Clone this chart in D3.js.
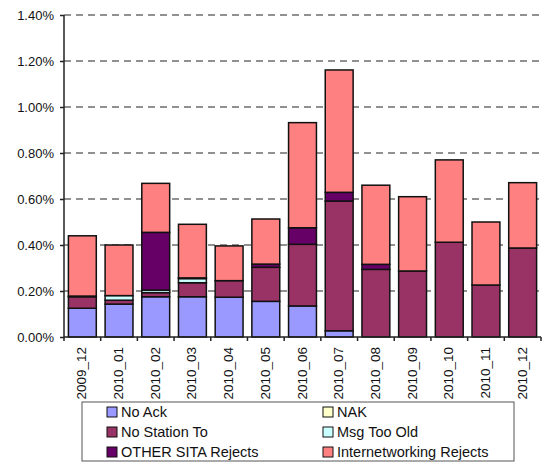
<!DOCTYPE html>
<html lang="en">
<head>
<meta charset="UTF-8">
<title>Rejects by month</title>
<script src="https://d3js.org/d3.v7.min.js"></script>
<style>
  body { margin: 0; background: #fff; }
  text { font-family: "Liberation Sans", Arial, sans-serif; fill: #111; }
</style>
</head>
<body>
<script>
// months on the x axis
var months = ["2009_12", "2010_01", "2010_02", "2010_03", "2010_04", "2010_05", "2010_06",
              "2010_07", "2010_08", "2010_09", "2010_10", "2010_11", "2010_12"];

// series names, in stack order (bottom first)
var seriesNames = ["No Ack", "NAK", "No Station To", "Msg Too Old", "OTHER SITA Rejects", "Internetworking Rejects"];
var seriesColors = ["#9999ff", "#ffffcc", "#993366", "#ccffff", "#660066", "#ff8080"];

// values in percent
var noAck          = [0.125, 0.143, 0.175, 0.175, 0.173, 0.155, 0.135, 0.027, 0, 0, 0, 0, 0];
var nak            = [0, 0, 0, 0, 0, 0, 0, 0, 0, 0, 0, 0, 0];
var noStationTo    = [0.050, 0.017, 0.018, 0.061, 0.072, 0.148, 0.268, 0.564, 0.294, 0.287, 0.412, 0.226, 0.387];
var msgTooOld      = [0, 0.020, 0.011, 0.018, 0, 0, 0, 0, 0, 0, 0, 0, 0];
var otherSita      = [0.003, 0, 0.251, 0.003, 0, 0.014, 0.072, 0.038, 0.022, 0, 0, 0, 0];
var internetworking = [0.262, 0.220, 0.213, 0.233, 0.151, 0.196, 0.457, 0.532, 0.344, 0.323, 0.358, 0.274, 0.284];

var yTicks = [0, 0.2, 0.4, 0.6, 0.8, 1.0, 1.2, 1.4];

var allSeries = [noAck, nak, noStationTo, msgTooOld, otherSita, internetworking];
var table = months.map(function(m, i) {
  var row = { month: m };
  seriesNames.forEach(function(s, j) { row[s] = allSeries[j][i]; });
  return row;
});

var W = 544, H = 462;
var pLeft = 64, pRight = 541, pTop = 15, pBottom = 337;

var svg = d3.select("body").append("svg")
    .attr("width", W)
    .attr("height", H);

var x = d3.scaleBand().domain(months).range([pLeft, pRight]).paddingInner(0.24).paddingOuter(0.12);
var y = d3.scaleLinear().domain([0, 1.4]).range([pBottom, pTop]);

// dashed gridlines
svg.append("g").selectAll("line")
  .data(yTicks.filter(function(d) { return d > 0; }))
  .enter().append("line")
    .attr("x1", pLeft).attr("x2", pRight)
    .attr("y1", function(d) { return y(d); })
    .attr("y2", function(d) { return y(d); })
    .attr("stroke", "#6e6e6e")
    .attr("stroke-width", 1.5)
    .attr("stroke-dasharray", "7,5");

// stacked bars
var stack = d3.stack().keys(seriesNames);
var layers = stack(table);

svg.append("g").selectAll("g")
  .data(layers)
  .enter().append("g")
    .attr("fill", function(d, i) { return seriesColors[i]; })
  .selectAll("rect")
  .data(function(d) { return d.filter(function(p) { return p[1] - p[0] > 0; }); })
  .enter().append("rect")
    .attr("x", function(d) { return x(d.data.month); })
    .attr("width", x.bandwidth())
    .attr("y", function(d) { return y(d[1]); })
    .attr("height", function(d) { return y(d[0]) - y(d[1]); })
    .attr("stroke", "#111")
    .attr("stroke-width", 1.5);

// y axis
var yAxis = d3.axisLeft(y)
    .tickValues(yTicks)
    .tickSize(4)
    .tickPadding(6)
    .tickFormat(function(d) { return d.toFixed(2) + "%"; });

var gy = svg.append("g")
    .attr("transform", "translate(" + pLeft + ",0)")
    .call(yAxis);
gy.select(".domain").attr("stroke", "#222").attr("stroke-width", 1.5).attr("d", "M0," + pTop + "V" + pBottom);
gy.selectAll(".tick line").attr("stroke", "#222").attr("stroke-width", 1.5);
gy.selectAll("text").style("font-size", "13px").attr("fill", "#111");

// x axis line + boundary ticks
var step = x.step();
var gx = svg.append("g");
gx.append("line")
    .attr("x1", pLeft).attr("x2", pRight)
    .attr("y1", pBottom).attr("y2", pBottom)
    .attr("stroke", "#222").attr("stroke-width", 1.5);
gx.selectAll(".bt")
  .data(d3.range(months.length + 1))
  .enter().append("line")
    .attr("class", "bt")
    .attr("x1", function(i) { return x(months[0]) - x.paddingOuter() * step + i * step; })
    .attr("x2", function(i) { return x(months[0]) - x.paddingOuter() * step + i * step; })
    .attr("y1", pBottom).attr("y2", pBottom + 4)
    .attr("stroke", "#222").attr("stroke-width", 1.5);

gx.selectAll(".xl")
  .data(months)
  .enter().append("text")
    .attr("class", "xl")
    .attr("transform", function(d) {
      return "translate(" + (x(d) + x.bandwidth() / 2 + 4) + "," + (pBottom + 10) + ") rotate(-90)";
    })
    .attr("text-anchor", "end")
    .style("font-size", "13.5px")
    .text(function(d) { return d; });

// legend
var lg = svg.append("g");
lg.append("rect")
    .attr("x", 82).attr("y", 402)
    .attr("width", 432).attr("height", 59)
    .attr("fill", "#fff")
    .attr("stroke", "#555").attr("stroke-width", 1);

var lx = [107, 323], ly = [412, 432, 452];
var items = lg.selectAll(".li")
  .data(seriesNames)
  .enter().append("g")
    .attr("class", "li")
    .attr("transform", function(d, i) {
      return "translate(" + lx[i % 2] + "," + ly[Math.floor(i / 2)] + ")";
    });
items.append("rect")
    .attr("x", 0).attr("y", -5)
    .attr("width", 10).attr("height", 10)
    .attr("fill", function(d, i) { return seriesColors[i]; })
    .attr("stroke", "#111").attr("stroke-width", 1);
items.append("text")
    .attr("x", 14).attr("y", 5)
    .style("font-size", "14.5px")
    .text(function(d) { return d; });
</script>
</body>
</html>
